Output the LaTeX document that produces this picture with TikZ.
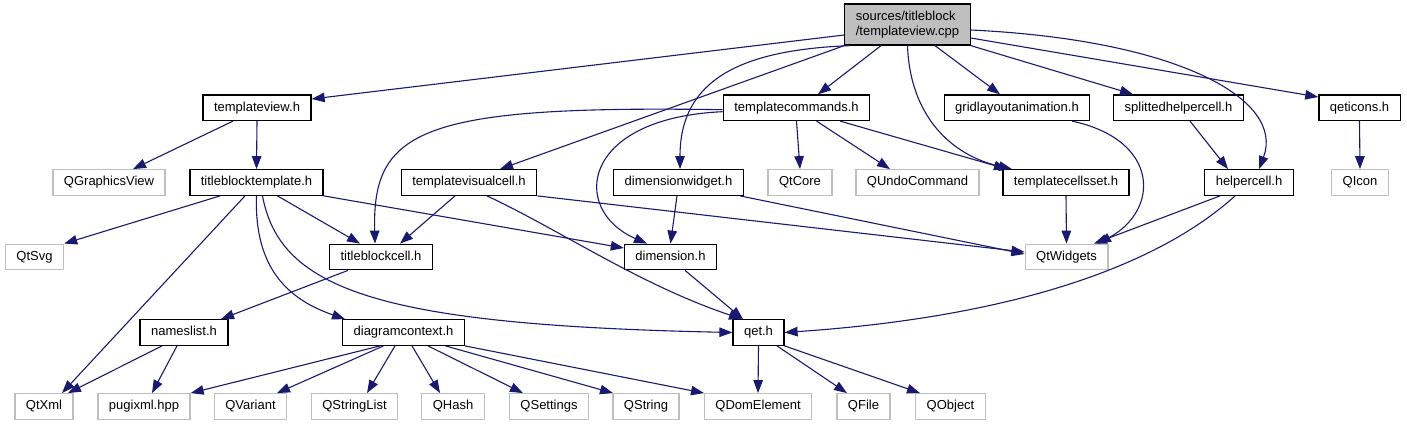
\documentclass[tikz,border=0pt]{standalone}
\usepackage{fontspec}
\setmainfont{Liberation Sans}
\usetikzlibrary{arrows.meta}
\definecolor{depblue}{RGB}{25,25,112}
\definecolor{sysgray}{RGB}{191,191,191}
\tikzset{
    filebox/.style={rectangle, draw=black, fill=white, line width=1.3pt, inner xsep=11pt, inner ysep=0pt, font=\fontsize{13}{15}\selectfont},
    hdr/.style={filebox, minimum height=25.5pt, text height=9.5pt, text depth=2.8pt},
    sys/.style={hdr, draw=sysgray},
    rootfile/.style={filebox, fill=sysgray, align=left, minimum height=41pt},
    dep/.style={-{Triangle[length=13pt, width=9.5pt]}, line width=1.1pt, color=depblue}
}
\begin{document}
\begin{tikzpicture}[x=1pt, y=-1pt]
    \useasboundingbox (0,0) rectangle (1407,425);

    % Root file
    \node[rootfile] (root) at (907.5, 24.5) {sources/titleblock\\/templateview.cpp};

    % Second row
    \node[hdr] (tview) at (257, 107.7) {templateview.h};
    \node[hdr] (tcmd) at (796.5, 107.7) {templatecommands.h};
    \node[hdr] (grid) at (1017, 107.7) {gridlayoutanimation.h};
    \node[hdr] (split) at (1178.5, 107.7) {splittedhelpercell.h};
    \node[hdr] (qeticons) at (1359.5, 107.7) {qeticons.h};

    % Third row
    \node[sys] (qgv) at (109, 182.5) {QGraphicsView};
    \node[hdr] (tbt) at (256.5, 182.5) {titleblocktemplate.h};
    \node[hdr] (tvc) at (469, 182.5) {templatevisualcell.h};
    \node[hdr] (dimw) at (678.5, 182.5) {dimensionwidget.h};
    \node[sys] (qtcore) at (800, 182.5) {QtCore};
    \node[sys] (qundo) at (917.5, 182.5) {QUndoCommand};
    \node[hdr] (tcs) at (1066, 182.5) {templatecellsset.h};
    \node[hdr] (helper) at (1249, 182.5) {helpercell.h};
    \node[sys] (qicon) at (1360, 182.5) {QIcon};

    % Fourth row
    \node[sys] (qtsvg) at (34.5, 257) {QtSvg};
    \node[hdr] (tbc) at (381, 257) {titleblockcell.h};
    \node[hdr] (dim) at (670.5, 257) {dimension.h};
    \node[sys] (qtw) at (1066.5, 257) {QtWidgets};

    % Fifth row
    \node[hdr] (nameslist) at (184, 332.5) {nameslist.h};
    \node[hdr] (dctx) at (403.5, 332.5) {diagramcontext.h};
    \node[hdr] (qet) at (758.5, 332.5) {qet.h};

    % Bottom row
    \node[sys] (qtxml) at (44, 406.5) {QtXml};
    \node[sys] (pugi) at (144, 406.5) {pugixml.hpp};
    \node[sys] (qvariant) at (250.5, 406.5) {QVariant};
    \node[sys] (qstrlist) at (354.5, 406.5) {QStringList};
    \node[sys] (qhash) at (453, 406.5) {QHash};
    \node[sys] (qsettings) at (549, 406.5) {QSettings};
    \node[sys] (qstring) at (646, 406.5) {QString};
    \node[sys] (qdom) at (758, 406.5) {QDomElement};
    \node[sys] (qfile) at (863.5, 406.5) {QFile};
    \node[sys] (qobject) at (950.5, 406.5) {QObject};

    % From the root file
    \draw[dep] ([yshift=-10.5pt]root.west) -- ([yshift=8.7pt]tview.east);
    \draw[dep] (root.south west) -- ([xshift=31pt]tvc.north);
    \draw[dep] ([xshift=-58pt]root.south) .. controls (740,50) and (680,80) .. ([xshift=1.5pt]dimw.north);
    \draw[dep] ([xshift=-26.5pt]root.south) -- ([xshift=21.5pt]tcmd.north);
    \draw[dep] (root.south) .. controls (910,115) and (950,155) .. ([xshift=-54pt]tcs.north);
    \draw[dep] ([xshift=27.5pt]root.south) -- ([xshift=-17pt]grid.north);
    \draw[dep] (root.south east) -- ([xshift=-45.5pt]split.north);
    \draw[dep] ([yshift=-13.5pt]root.east) -- ([yshift=10.7pt]qeticons.west);
    \draw[dep] ([yshift=-5.5pt]root.east) .. controls (1180,40) and (1285,100) .. ([xshift=10pt]helper.north);

    % Second row
    \draw[dep] ([xshift=-24pt]tview.south) -- ([xshift=24pt]qgv.north);
    \draw[dep] (tview.south) -- (tbt.north);
    \draw[dep] ([yshift=-2pt]tcmd.west) .. controls (420,105) and (372,130) .. ([xshift=-6pt]tbc.north);
    \draw[dep] ([yshift=-4pt]tcmd.west) .. controls (580,118) and (570,210) .. ([xshift=-23.5pt]dim.north);
    \draw[dep] (tcmd.south) -- (qtcore.north);
    \draw[dep] ([xshift=20pt]tcmd.south) -- ([xshift=-27.5pt]qundo.north);
    \draw[dep] ([xshift=43.5pt]tcmd.south) -- ([xshift=-59pt]tcs.north);
    \draw[dep] ([xshift=55pt]grid.south) .. controls (1160,140) and (1160,210) .. ([xshift=31.5pt]qtw.north);
    \draw[dep] ([xshift=11.5pt]split.south) -- ([xshift=-21pt]helper.north);
    \draw[dep] (qeticons.south) -- (qicon.north);

    % Third row
    \draw[dep] ([xshift=-36.5pt]tbt.south) -- (qtsvg.north east);
    \draw[dep] ([xshift=-11.5pt]tbt.south) -- ([xshift=18pt]qtxml.north);
    \draw[dep] ([xshift=21pt]tbt.south) -- ([xshift=-21pt]tbc.north);
    \draw[dep] (tbt.south) .. controls (254,270) and (290,300) .. ([xshift=-58.5pt]dctx.north);
    \draw[dep] ([xshift=6pt]tbt.south) .. controls (280,290) and (380,325) .. (qet.west);
    \draw[dep] (tbt.south east) -- ([yshift=9pt]dim.west);
    \draw[dep] ([xshift=-14pt]tvc.south) -- ([xshift=19pt]tbc.north);
    \draw[dep] ([xshift=18pt]tvc.south) .. controls (560,230) and (640,285) .. ([xshift=-16.5pt]qet.north);
    \draw[dep] (tvc.south east) -- ([yshift=5pt]qtw.west);
    \draw[dep] ([xshift=-1.5pt]dimw.south) -- (dim.north);
    \draw[dep] ([xshift=61.5pt]dimw.south) -- ([yshift=3pt]qtw.west);
    \draw[dep] (tcs.south) -- (qtw.north);
    \draw[dep] ([xshift=-29pt]helper.south) -- ([xshift=27.5pt]qtw.north);
    \draw[dep] ([xshift=-14pt]helper.south) .. controls (1170,255) and (1040,315) .. (qet.east);

    % Fourth row
    \draw[dep] ([xshift=-33pt]tbc.south) -- ([xshift=37pt]nameslist.north);
    \draw[dep] ([xshift=14.5pt]dim.south) -- ([xshift=-15.5pt]qet.north);

    % Fifth row
    \draw[dep] ([xshift=-22pt]nameslist.south) -- ([xshift=24pt]qtxml.north);
    \draw[dep] ([xshift=-7pt]nameslist.south) -- ([xshift=8pt]pugi.north);
    \draw[dep] ([xshift=-23.5pt]dctx.south) -- (pugi.north east);
    \draw[dep] ([xshift=-20pt]dctx.south) -- ([xshift=26.5pt]qvariant.north);
    \draw[dep] ([xshift=-8.5pt]dctx.south) -- ([xshift=12.5pt]qstrlist.north);
    \draw[dep] ([xshift=8.5pt]dctx.south) -- ([xshift=-13pt]qhash.north);
    \draw[dep] ([xshift=24.5pt]dctx.south) -- ([xshift=-26pt]qsettings.north);
    \draw[dep] ([xshift=42pt]dctx.south) -- ([xshift=-33pt]qstring.north);
    \draw[dep] (dctx.south east) -- ([xshift=-54pt]qdom.north);
    \draw[dep] (qet.south) -- (qdom.north);
    \draw[dep] ([xshift=18.5pt]qet.south) -- ([xshift=-16.5pt]qfile.north);
    \draw[dep] (qet.south east) -- ([xshift=-30.5pt]qobject.north);
\end{tikzpicture}
\end{document}
